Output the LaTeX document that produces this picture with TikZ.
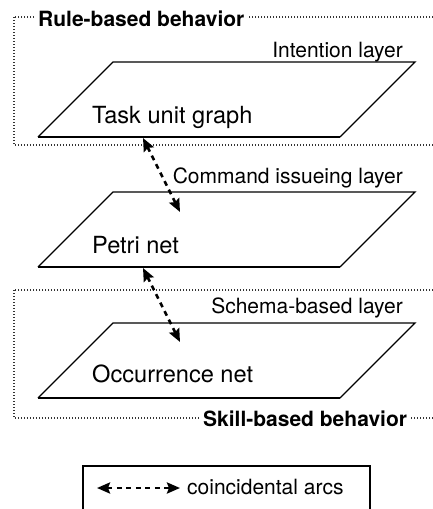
\documentclass[tikz,border=0pt]{standalone}
\usepackage{fontspec}
\setmainfont{TeX Gyre Heros}
\usetikzlibrary{arrows.meta}
\tikzset{
  plane/.style={line width=1.4pt, line join=miter},
  planebottom/.style={line width=2.4pt},
  region/.style={line width=1.3pt, dash pattern=on 1.2pt off 1.8pt, black!80},
  arcline/.style={line width=2.6pt, dash pattern=on 5pt off 4.5pt,
    {Stealth[length=13pt,width=11pt,inset=2pt]}-{Stealth[length=13pt,width=11pt,inset=2pt]}},
  big/.style={font=\fontsize{23.6}{28}\selectfont, inner sep=0pt},
  lay/.style={font=\fontsize{21}{25}\selectfont, inner sep=0pt},
  boldlabel/.style={font=\fontsize{21}{25}\selectfont\bfseries, inner ysep=0pt, inner xsep=3pt, fill=white},
  legendbox/.style={line width=1.4pt}
}
\begin{document}
\begin{tikzpicture}[x=1pt,y=-1pt]
\useasboundingbox (0,0) rectangle (433,509);
\clip (0,0) rectangle (433,509);
\fill[white] (0,0) rectangle (433,509);

% regions
\draw[region] (14,17) rectangle (445,145);
\node[boldlabel, anchor=base west] (rule) at (35,26) {Rule-based behavior};
\draw[region] (14,290) rectangle (445,418);
\node[boldlabel, anchor=base west] (skill) at (200,426) {Skill-based behavior};

% planes
\foreach \y [count=\i] in {62,192,323} {
  \coordinate (p\i tl) at (113,\y);
  \coordinate (p\i tr) at (415,\y);
  \coordinate (p\i br) at (340,\y+75);
  \coordinate (p\i bl) at (38,\y+75);
  \draw[plane] (p\i bl) -- (p\i tl) -- (p\i tr) -- (p\i br);
  \draw[planebottom] (p\i bl) -- (p\i br);
}

% labels
\node[lay, anchor=base east] (intent) at (403,57) {Intention layer};
\node[big, anchor=base west] (tug) at (92,123) {Task unit graph};
\node[lay, anchor=base east] (cmd) at (403,183) {Command issueing layer};
\node[big, anchor=base west] (petri) at (92,253) {Petri net};
\node[lay, anchor=base east] (schema) at (403,313) {Schema-based layer};
\node[big, anchor=base west] (occ) at (92,382) {Occurrence net};

% coincidental arcs
\coordinate (a1) at (143,138);
\coordinate (b1) at (180,212);
\coordinate (a2) at (143,268);
\coordinate (b2) at (180,342);
\draw[arcline] (a1) -- (b1);
\draw[arcline] (a2) -- (b2);

% legend
\draw[legendbox] (83,466) rectangle (370,530);
\coordinate (la) at (97,488);
\coordinate (lb) at (180,488);
\draw[arcline] (la) -- (lb);
\node[lay, anchor=base west] (legtext) at (187,494) {coincidental arcs};
\end{tikzpicture}
\end{document}
